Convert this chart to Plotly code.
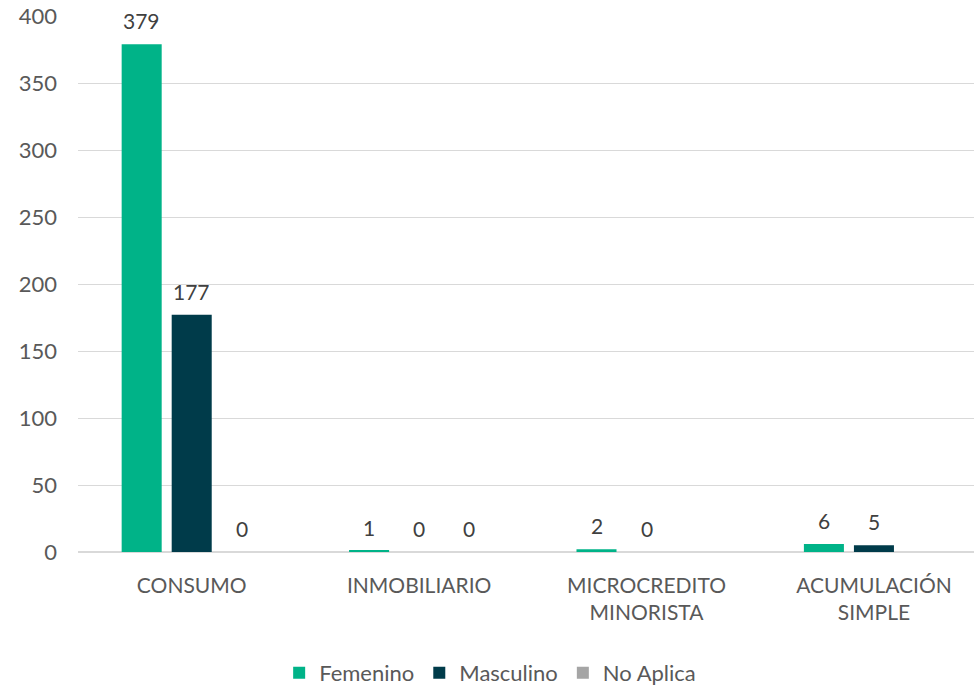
import plotly.graph_objects as go

categories = ["CONSUMO", "INMOBILIARIO", "MICROCREDITO<br>MINORISTA", "ACUMULACIÓN<br>SIMPLE"]
femenino = [379, 1, 2, 6]
masculino = [177, 0, 0, 5]
no_aplica = [0, 0, None, None]
y_ticks = [0, 50, 100, 150, 200, 250, 300, 350, 400]

series = [("Femenino", femenino), ("Masculino", masculino), ("No Aplica", no_aplica)]
colors = {"Femenino": "#00B388", "Masculino": "#003B4A", "No Aplica": "#A5A5A5"}
font_family = "Lato, Open Sans, sans-serif"
text_color = "#595959"

fig = go.Figure()
for name, vals in series:
    fig.add_trace(go.Bar(
        x=categories, y=vals, name=name,
        marker=dict(color=colors[name], line=dict(width=0)),
    ))

# data labels, lifted a little above each bar (like the Excel original)
slot_px = 50
for i, (name, vals) in enumerate(series):
    for cat, v in zip(categories, vals):
        if v is None:
            continue
        fig.add_annotation(
            x=cat, y=v, text=str(v), showarrow=False,
            xshift=(i - 1) * slot_px, yshift=9, yanchor="bottom",
            font=dict(size=21, color="#404040", family=font_family),
        )

fig.update_layout(
    width=974, height=688,
    margin=dict(l=78, r=0, t=16, b=136, autoexpand=False),
    paper_bgcolor="white", plot_bgcolor="white",
    barmode="group", bargap=0.34, bargroupgap=0.2,
    font=dict(family=font_family, color=text_color, size=21),
    showlegend=True,
    legend=dict(orientation="h", x=0.46, xanchor="center", y=-0.2257, yanchor="middle",
                font=dict(size=22, color=text_color), itemwidth=30, traceorder="normal"),
    xaxis=dict(range=[-0.5, 3.44], showgrid=False, showline=False, ticks="",
               automargin=False, ticklabelstandoff=19,
               tickfont=dict(size=21, color=text_color)),
    yaxis=dict(range=[0, 400], tickvals=y_ticks, showgrid=True, gridcolor="#D9D9D9",
               gridwidth=1, zeroline=True, zerolinecolor="#D9D9D9", zerolinewidth=2,
               automargin=False, ticklabeloverflow="allow",
               tickfont=dict(size=22, color=text_color), ticklabelstandoff=20),
)

# remove the browser's default 8px body margin so the figure fills the window
fig.write_html("out.html", config={"displayModeBar": False},
               post_script="document.body.style.margin='0';")
